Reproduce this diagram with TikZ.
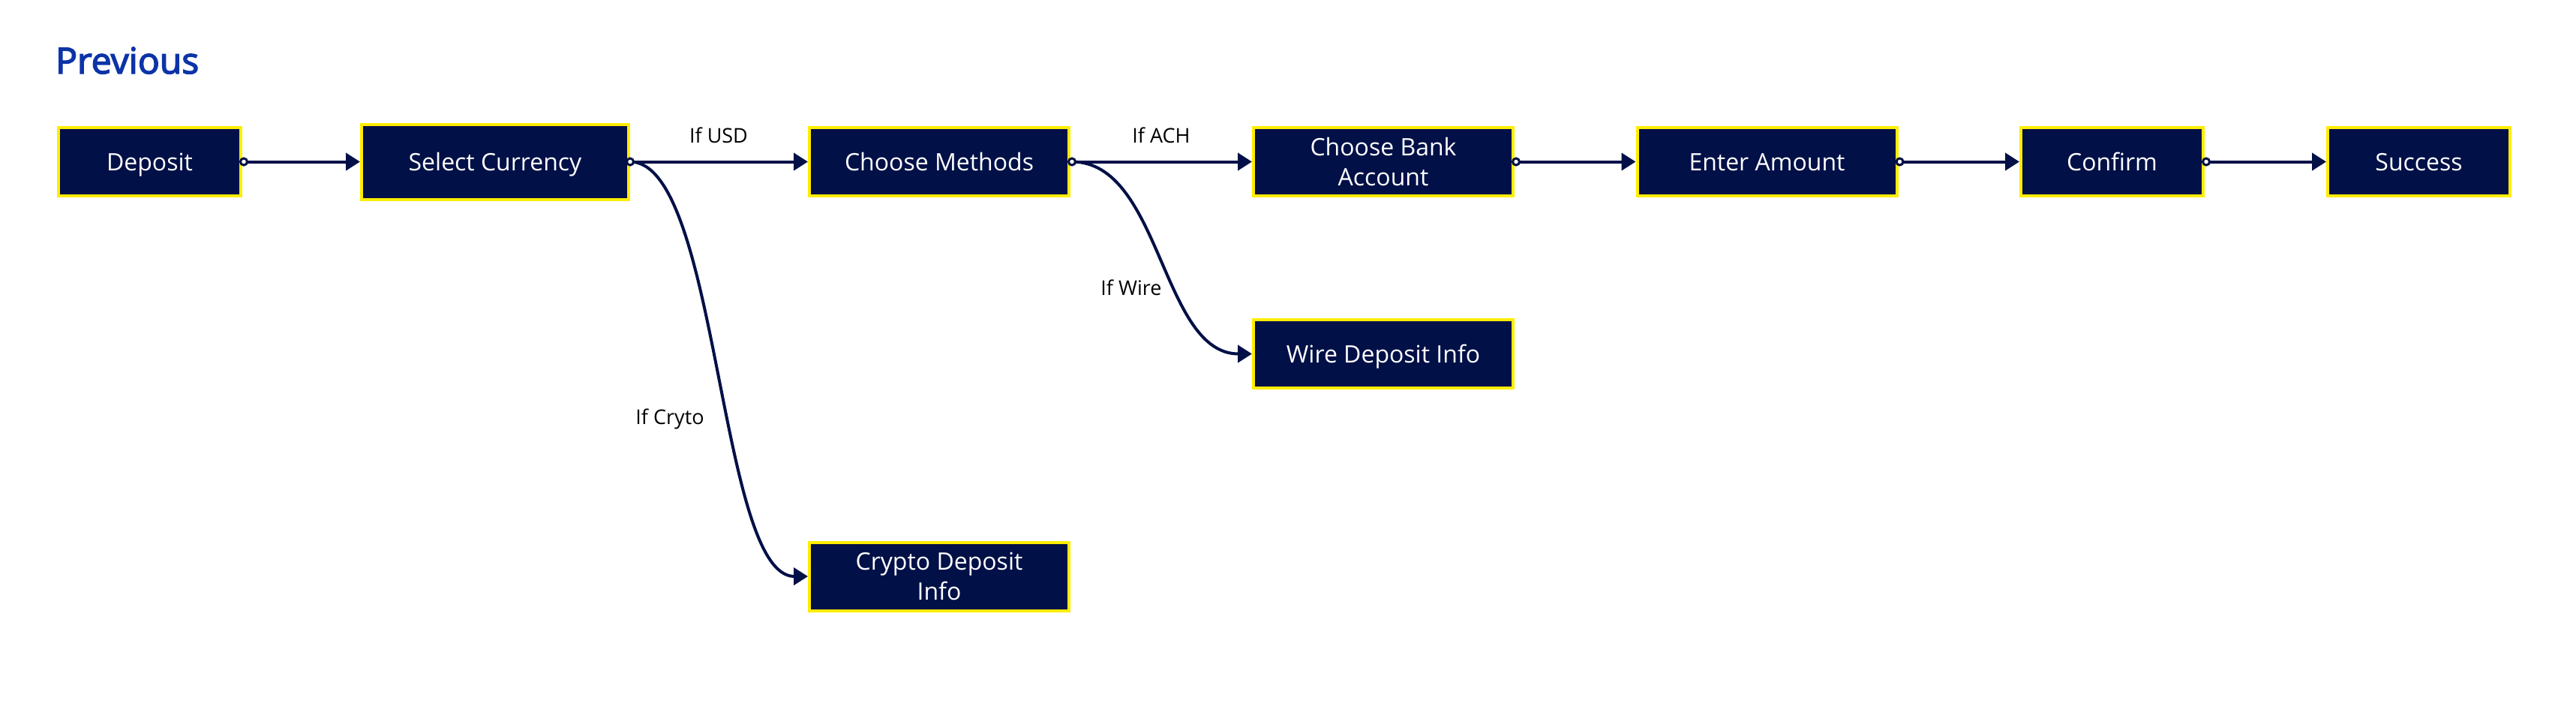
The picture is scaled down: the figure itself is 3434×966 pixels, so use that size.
\documentclass[tikz,border=0pt]{standalone}
\usepackage{fontspec}
\setmainfont{Open Sans}
\newfontfamily\titlefont{Open Sans}[FakeBold=3]
\usetikzlibrary{arrows.meta}
\definecolor{navy}{RGB}{1,16,71}
\definecolor{ylw}{RGB}{255,237,0}
\definecolor{ttl}{RGB}{12,52,168}
\begin{document}
\begin{tikzpicture}[x=1pt,y=-1pt,
  box/.style={draw=ylw, line width=4pt, fill=navy, text=white,
    font=\fontsize{32}{40}\selectfont, align=center, inner sep=0pt,
    text height=23pt, text depth=0pt, minimum height=91pt},
  twoline/.style={text height=63pt},
  sbox/.style={box, minimum width=243pt},
  bbox/.style={box, minimum width=346pt},
  conn/.style={draw=navy, line width=4pt, -{Triangle[length=19pt,width=23pt]}},
  lbl/.style={font=\fontsize{27}{32}\selectfont, text=black, inner sep=0pt, anchor=base},
  dot/.style={draw=navy, fill=white, line width=3pt}]
\fill[white] (0,0) rectangle (3434,966);
\useasboundingbox (0,0) rectangle (3434,966);

\node[anchor=base west, inner sep=0pt, text=ttl, font=\fontsize{48}{56}\titlefont] (title) at (74,98) {Previous};

\node[sbox] (dep) at (199.5,215.5) {Deposit};
\node[box, minimum width=356pt, minimum height=100pt] (sel) at (660,215.5) {Select Currency};
\node[bbox] (meth) at (1252,215.5) {Choose Methods};
\node[bbox, twoline] (bank) at (1844,215.5) {Choose Bank\\Account};
\node[bbox] (wire) at (1844,471.5) {Wire Deposit Info};
\node[bbox] (amt) at (2355.5,215.5) {Enter Amount};
\node[sbox] (conf) at (2815.5,215.5) {Confirm};
\node[sbox] (succ) at (3224.5,215.5) {Success};
\node[bbox, twoline] (cry) at (1252,768) {Crypto Deposit\\Info};

\draw[conn] ([xshift=2pt]dep.east) -- (sel.west);
\draw[conn] (sel.east) -- (meth.west);
\draw[conn] (sel.east) .. controls (958,215.5) and (958,768) .. (cry.west);
\draw[conn] ([xshift=2pt]meth.east) -- (bank.west);
\draw[conn] ([xshift=2pt]meth.east) .. controls (1548,215.5) and (1548,471.5) .. (wire.west);
\draw[conn] ([xshift=2pt]bank.east) -- (amt.west);
\draw[conn] ([xshift=2pt]amt.east) -- (conf.west);
\draw[conn] ([xshift=2pt]conf.east) -- (succ.west);

\draw[dot] ([xshift=2pt]dep.east) circle (4.5pt);
\draw[dot] (sel.east) circle (4.5pt);
\draw[dot] ([xshift=2pt]meth.east) circle (4.5pt);
\draw[dot] ([xshift=2pt]bank.east) circle (4.5pt);
\draw[dot] ([xshift=2pt]amt.east) circle (4.5pt);
\draw[dot] ([xshift=2pt]conf.east) circle (4.5pt);

\node[lbl] (lusd) at (958,190) {If USD};
\node[lbl] (lach) at (1548,190) {If ACH};
\node[lbl] (lwire) at (1508,393) {If Wire};
\node[lbl] (lcry) at (893,565) {If Cryto};
\end{tikzpicture}
\end{document}
